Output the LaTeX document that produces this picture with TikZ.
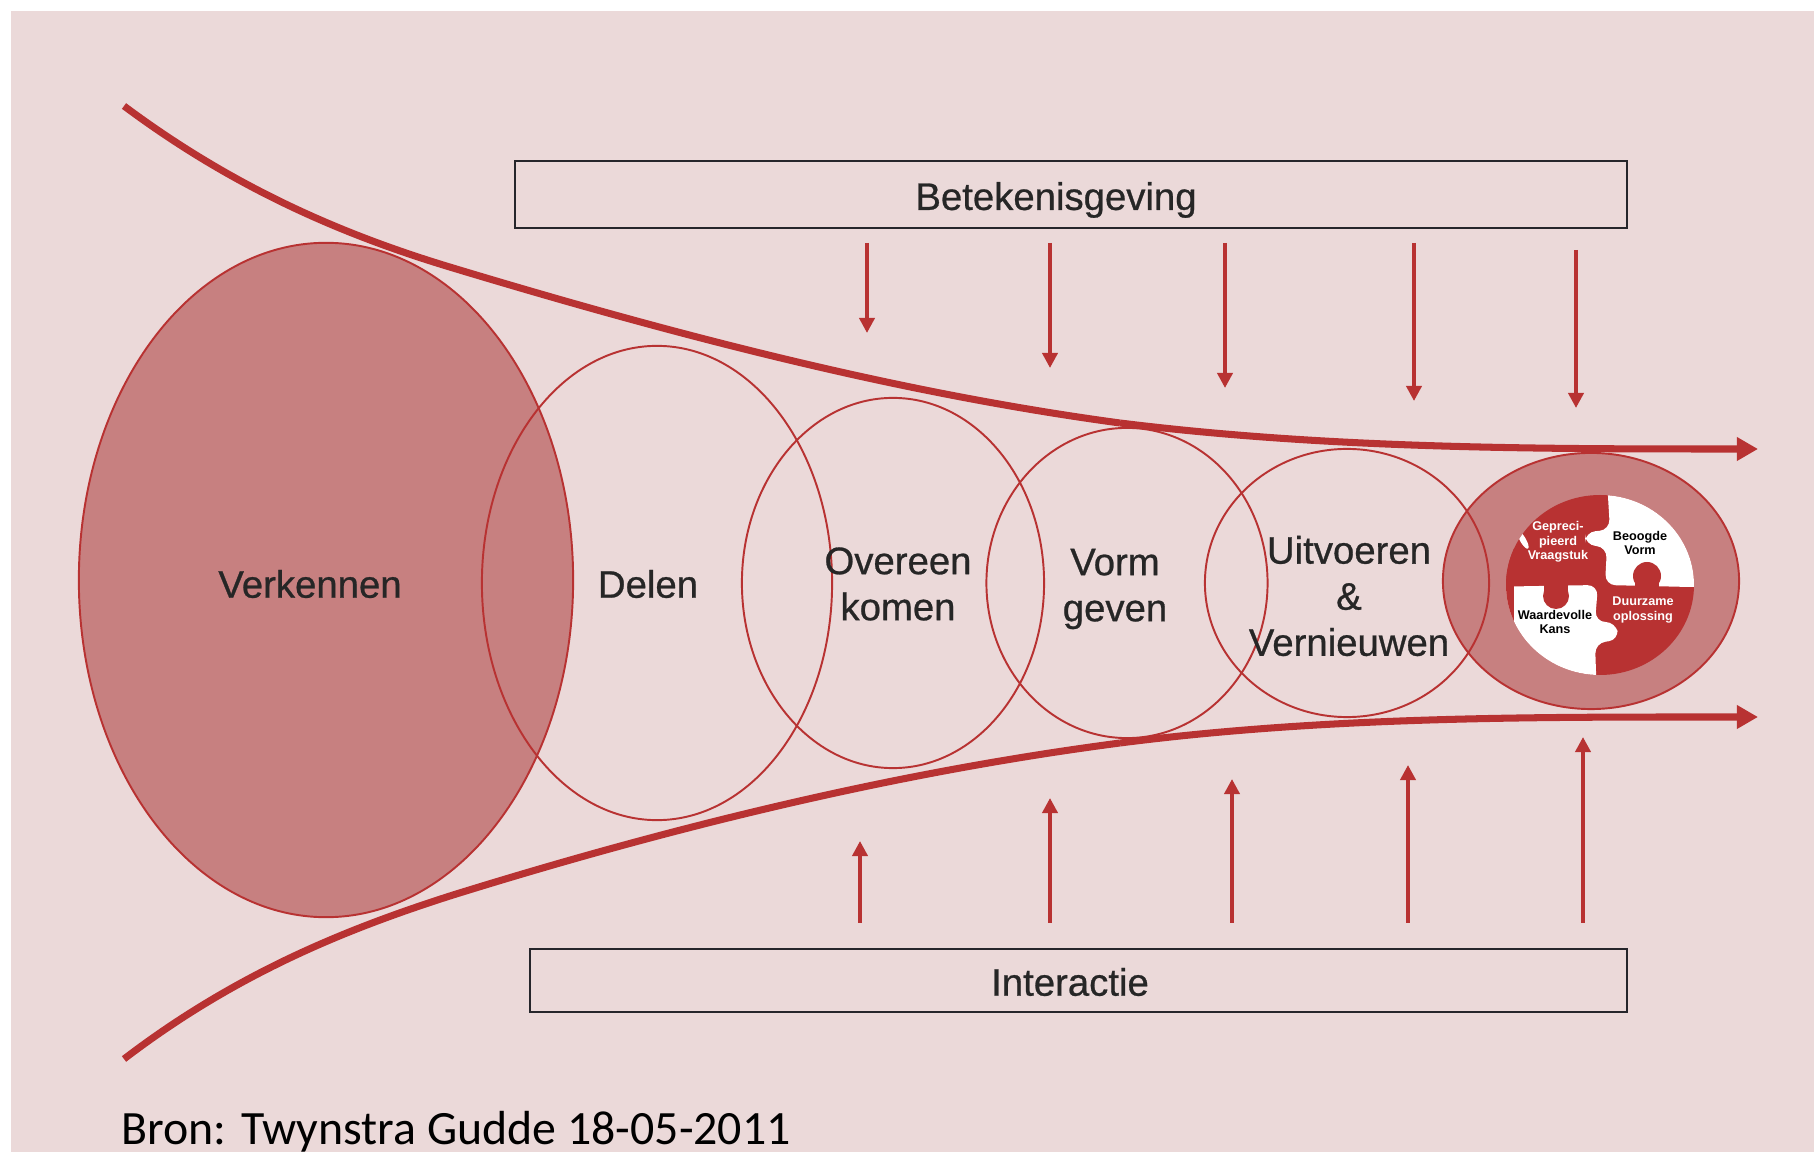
\documentclass[tikz,border=0pt]{standalone}
\usepackage{fontspec}
\setmainfont{Liberation Sans}
\newfontfamily\stagefont[FakeBold=0.7]{Liberation Sans}
\newfontfamily\bronfont{Carlito}
\usetikzlibrary{shapes.geometric,arrows.meta}
\definecolor{bgpink}{HTML}{EBD9D9}
\definecolor{fillrose}{HTML}{C78080}
\definecolor{funnelred}{HTML}{B83232}
\definecolor{boxline}{HTML}{26262B}
\tikzset{
    stage/.style={
    ellipse,
    draw=funnelred,
    line width=0.55pt,
    inner sep=0pt
  },
    stagelabel/.style={
    font=\stagefont\fontsize{10.9}{13.1}\selectfont,
    text=black!85,
    align=center
  },
    bandbox/.style={
    draw=boxline,
    line width=0.6pt,
    inner sep=0pt
  },
    funnel/.style={
    draw=funnelred,
    line width=2pt
  },
    funnelhead/.style={
    -{Triangle[length=6pt,width=6.4pt]}
  },
    flow/.style={
    draw=funnelred,
    line width=1.05pt,
    -{Triangle[length=4.3pt,width=4.3pt]}
  },
    puzzletext/.style={
    font=\fontsize{3.6}{4.1}\selectfont\bfseries,
    align=center
  }
}

\begin{document}
\begin{tikzpicture}[x=0.01cm,y=-0.01cm]
  \useasboundingbox (0,0) rectangle (1814,1152);
  \fill[bgpink] (11,11) rectangle (1814,1152);

  \node[stage,fill=fillrose,minimum width=4.94cm,minimum height=6.74cm] (e_verkennen) at (326,580) {};
  \node[stage,minimum width=3.50cm,minimum height=4.74cm] (e_delen) at (657,583) {};
  \node[stage,minimum width=3.02cm,minimum height=3.70cm] (e_overeen) at (893,583) {};
  \node[stage,minimum width=2.81cm,minimum height=3.10cm] (e_vorm) at (1127,583) {};
  \node[stage,fill=fillrose,minimum width=2.96cm,minimum height=2.56cm] (e_oplossing) at (1591,581) {};
  \node[stage,minimum width=2.84cm,minimum height=2.68cm] (e_uitvoeren) at (1347,583) {};

  \begin{scope}
    \clip (1600,585) ellipse (94 and 90);
    \fill[funnelred] (1400,400) rectangle (1800,800);
    \fill[white,rounded corners=3pt] (1607,480) -- (1610,530) -- (1585,532) -- (1585,545) -- (1607,547) -- (1605,585) -- (1690,587) -- (1730,587) -- (1730,480) -- cycle;
    \fill[funnelred] (1647,576) circle (14);
    \fill[funnelred] (1635,576) rectangle (1659,600);
    \fill[white,rounded corners=3pt] (1480,587) -- (1598,585) -- (1595,622) -- (1616,622) -- (1619,640) -- (1595,643) -- (1597,700) -- (1480,700) -- cycle;
    \fill[funnelred] (1556,596) circle (13);
    \fill[funnelred] (1544,570) rectangle (1568,596);
    \fill[funnelred] (1480,540) rectangle (1514,640);
    \fill[white,rotate around={30:(1523,540)}] (1523,540) ellipse (3 and 10);
  \end{scope}
  \node[puzzletext,text=white] (t_gepreci) at (1558,542) {Gepreci-\\pieerd\\Vraagstuk};
  \node[puzzletext,text=black] (t_beoogde) at (1640,543) {Beoogde\\Vorm};
  \node[puzzletext,text=black] (t_waardevol) at (1555,622) {Waardevolle\\Kans};
  \node[puzzletext,text=white] (t_duurzaam) at (1643,610) {Duurzame\\oplossing};

  \node[stagelabel] (t_verkennen) at (310,584) {Verkennen};
  \node[stagelabel] (t_delen) at (648,584) {Delen};
  \node[stagelabel] (t_overeen) at (898,584) {Overeen\\komen};
  \node[stagelabel] (t_vorm) at (1115,589) {Vorm\\geven};
  \node[stagelabel] (t_uitvoeren) at (1349,596) {Uitvoeren\\\&\\Vernieuwen};

  \node[bandbox,minimum width=11.12cm,minimum height=0.67cm] (b_betekenis) at (1071,194.5) {};
  \node[stagelabel] (t_betekenis) at (1056,200) {Betekenisgeving};
  \node[bandbox,minimum width=10.97cm,minimum height=0.63cm] (b_interactie) at (1078.5,980.5) {};
  \node[stagelabel] (t_interactie) at (1070,982) {Interactie};

  \coordinate (c_top_a) at (124,106);
  \coordinate (c_top_b) at (453,268);
  \coordinate (c_top_c) at (1120,423);
  \coordinate (c_top_d) at (1758,449);
  \coordinate (c_bot_a) at (124,1059);
  \coordinate (c_bot_b) at (453,895);
  \coordinate (c_bot_c) at (1120,743);
  \coordinate (c_bot_d) at (1758,717);
  \draw[funnel] (c_top_a) .. controls (234,188) and (343,235) .. (c_top_b) .. controls (675,335) and (898,393) .. (c_top_c);
  \draw[funnel,funnelhead] (c_top_c) .. controls (1330,449) and (1540,449) .. (c_top_d);
  \draw[funnel] (c_bot_a) .. controls (234,975) and (343,930) .. (c_bot_b) .. controls (675,826) and (898,772) .. (c_bot_c);
  \draw[funnel,funnelhead] (c_bot_c) .. controls (1330,716) and (1540,717) .. (c_bot_d);

  \coordinate (a_1s) at (867,243);
  \coordinate (a_1e) at (867,333);
  \coordinate (a_2s) at (1050,243);
  \coordinate (a_2e) at (1050,368);
  \coordinate (a_3s) at (1225,243);
  \coordinate (a_3e) at (1225,388);
  \coordinate (a_4s) at (1414,243);
  \coordinate (a_4e) at (1414,401);
  \coordinate (a_5s) at (1576,250);
  \coordinate (a_5e) at (1576,408);
  \coordinate (a_6s) at (860,923);
  \coordinate (a_6e) at (860,841);
  \coordinate (a_7s) at (1050,923);
  \coordinate (a_7e) at (1050,798);
  \coordinate (a_8s) at (1232,923);
  \coordinate (a_8e) at (1232,779);
  \coordinate (a_9s) at (1408,923);
  \coordinate (a_9e) at (1408,765);
  \coordinate (a_10s) at (1583,923);
  \coordinate (a_10e) at (1583,737);

  \draw[flow] (a_1s) -- (a_1e);
  \draw[flow] (a_2s) -- (a_2e);
  \draw[flow] (a_3s) -- (a_3e);
  \draw[flow] (a_4s) -- (a_4e);
  \draw[flow] (a_5s) -- (a_5e);
  \draw[flow] (a_6s) -- (a_6e);
  \draw[flow] (a_7s) -- (a_7e);
  \draw[flow] (a_8s) -- (a_8e);
  \draw[flow] (a_9s) -- (a_9e);
  \draw[flow] (a_10s) -- (a_10e);

  \node[font=\bronfont\fontsize{13.6}{15}\selectfont,anchor=base west,inner sep=0pt] (t_bron) at (121,1144) {Bron: Twynstra Gudde 18-05-2011};
\end{tikzpicture}
\end{document}
